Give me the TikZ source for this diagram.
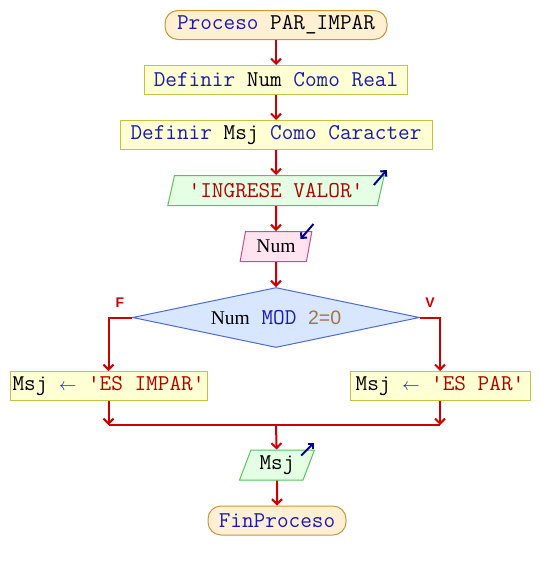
\documentclass[tikz,border=0pt]{standalone}
\usepackage{fontspec}
\setmainfont{Liberation Serif}
\setsansfont{Liberation Sans}
\usetikzlibrary{positioning,shapes.geometric,arrows.meta}

\definecolor{flujo}{HTML}{CC0000}
\definecolor{flecha}{HTML}{000088}
\definecolor{clave}{HTML}{1A1AB0}
\definecolor{cadena}{HTML}{B00000}
\definecolor{numero}{HTML}{A07840}
\definecolor{bordeterm}{HTML}{C8963C}
\definecolor{rellenoterm}{HTML}{FFF0D4}
\definecolor{bordeproc}{HTML}{C8C040}
\definecolor{rellenoproc}{HTML}{FFFFD4}
\definecolor{bordeent}{HTML}{5CC05C}
\definecolor{rellenoent}{HTML}{E4FFE4}
\definecolor{bordelec}{HTML}{C8508C}
\definecolor{rellenolec}{HTML}{FFE4F0}
\definecolor{bordedec}{HTML}{4C6CCC}
\definecolor{rellenodec}{HTML}{D8E6FF}
\newcommand{\clave}[1]{\textcolor{clave}{#1}}
\newcommand{\cadena}[1]{\textcolor{cadena}{#1}}
\newcommand{\numero}[1]{\textcolor{numero}{#1}}
\newcommand{\asigna}{\textcolor{clave}{\fontsize{17}{17}\selectfont$\leftarrow$}}

\begin{document}
\begin{tikzpicture}[x=1pt, y=1pt, node distance=25pt,
    font=\fontsize{22.6}{24}\selectfont\ttfamily,
    terminal/.style={draw=bordeterm, fill=rellenoterm, line width=1pt, rounded corners=13pt, minimum height=29pt, inner sep=0pt},
    proceso/.style={draw=bordeproc, fill=rellenoproc, line width=1pt, minimum height=29pt, inner sep=0pt},
    entrada/.style={trapezium, trapezium stretches=true, draw=bordeent, fill=rellenoent, line width=1pt, minimum height=30pt, inner sep=0pt},
    lectura/.style={trapezium, trapezium stretches=true, draw=bordelec, fill=rellenolec, line width=1pt, minimum height=30pt, inner sep=0pt},
    decision/.style={diamond, aspect=4.8, draw=bordedec, fill=rellenodec, line width=1pt, minimum width=287pt, minimum height=60pt, inner sep=0pt},
    rama/.style={font=\sffamily\bfseries\fontsize{14}{14}\selectfont, text=flujo, inner sep=0pt},
    flow/.style={draw=flujo, line width=2pt, -{Straight Barb[length=5pt,width=10pt]}},
    flowline/.style={draw=flujo, line width=2pt},
    dato/.style={draw=flecha, line width=2pt, -{Straight Barb[length=4pt,width=8pt]}}]
    \useasboundingbox (0,0) rectangle (540,-570);

    % Nodes
    \node[terminal, minimum width=222pt] (inicio) at (276,-25) {\clave{Proceso} PAR\_IMPAR};
    \node[proceso, minimum width=263pt, below=of inicio] (defnum) {\clave{Definir} Num \clave{Como Real}};
    \node[proceso, minimum width=312pt, below=of defnum] (defmsj) {\clave{Definir} Msj \clave{Como Caracter}};
    \node[entrada, trapezium left angle=68, trapezium right angle=112, minimum width=217pt, below=of defmsj] (ingreso) {\cadena{'INGRESE VALOR'}};
    \node[lectura, trapezium left angle=75, trapezium right angle=105, minimum width=72pt, below=of ingreso] (leer) {\rmfamily\fontsize{19.5}{22}\selectfont Num};
    \node[decision, below=of leer] (cond) {{\rmfamily\fontsize{19.5}{22}\selectfont Num} \clave{MOD} {\sffamily\fontsize{19.5}{22}\selectfont\numero{2=0}}};
    \node[rama] (etiqF) at (120,-303) {F};
    \node[rama] (etiqV) at (430,-303) {V};
    \node[proceso, minimum width=197pt] (impar) at (108.5,-386) {Msj \asigna{} \cadena{'ES IMPAR'}};
    \node[proceso, minimum width=180pt] (par) at (440,-386) {Msj \asigna{} \cadena{'ES PAR'}};
    \coordinate (junta) at (276,-425);
    \node[entrada, trapezium left angle=68, trapezium right angle=112, minimum width=75pt] (salida) at (277,-465) {Msj};
    \node[terminal, minimum width=138pt, below=of salida] (fin) {\clave{FinProceso}};

    % Arrows
    \draw[flow] (inicio) -- (defnum);
    \draw[flow] (defnum) -- (defmsj);
    \draw[flow] (defmsj) -- (ingreso);
    \draw[flow] (ingreso) -- (leer);
    \draw[flow] (leer) -- (cond);
    \draw[flow] (cond.west) -| (impar);
    \draw[flow] (cond.east) -| (par);
    \draw[flow] (impar) -- (impar |- junta);
    \draw[flow] (par) -- (par |- junta);
    \draw[flowline] (impar |- junta) -- (par |- junta);
    \draw[flow] (junta) -- (salida);
    \draw[flow] (salida) -- (fin);

    % Input and output marks
    \draw[dato] ([shift={(-11,-10)}]ingreso.top right corner) -- ++(13,15);
    \draw[dato] ([shift={(1,7)}]leer.top right corner) -- ++(-13,-15);
    \draw[dato] ([shift={(-14,-6)}]salida.top right corner) -- ++(13,13);
\end{tikzpicture}
\end{document}
